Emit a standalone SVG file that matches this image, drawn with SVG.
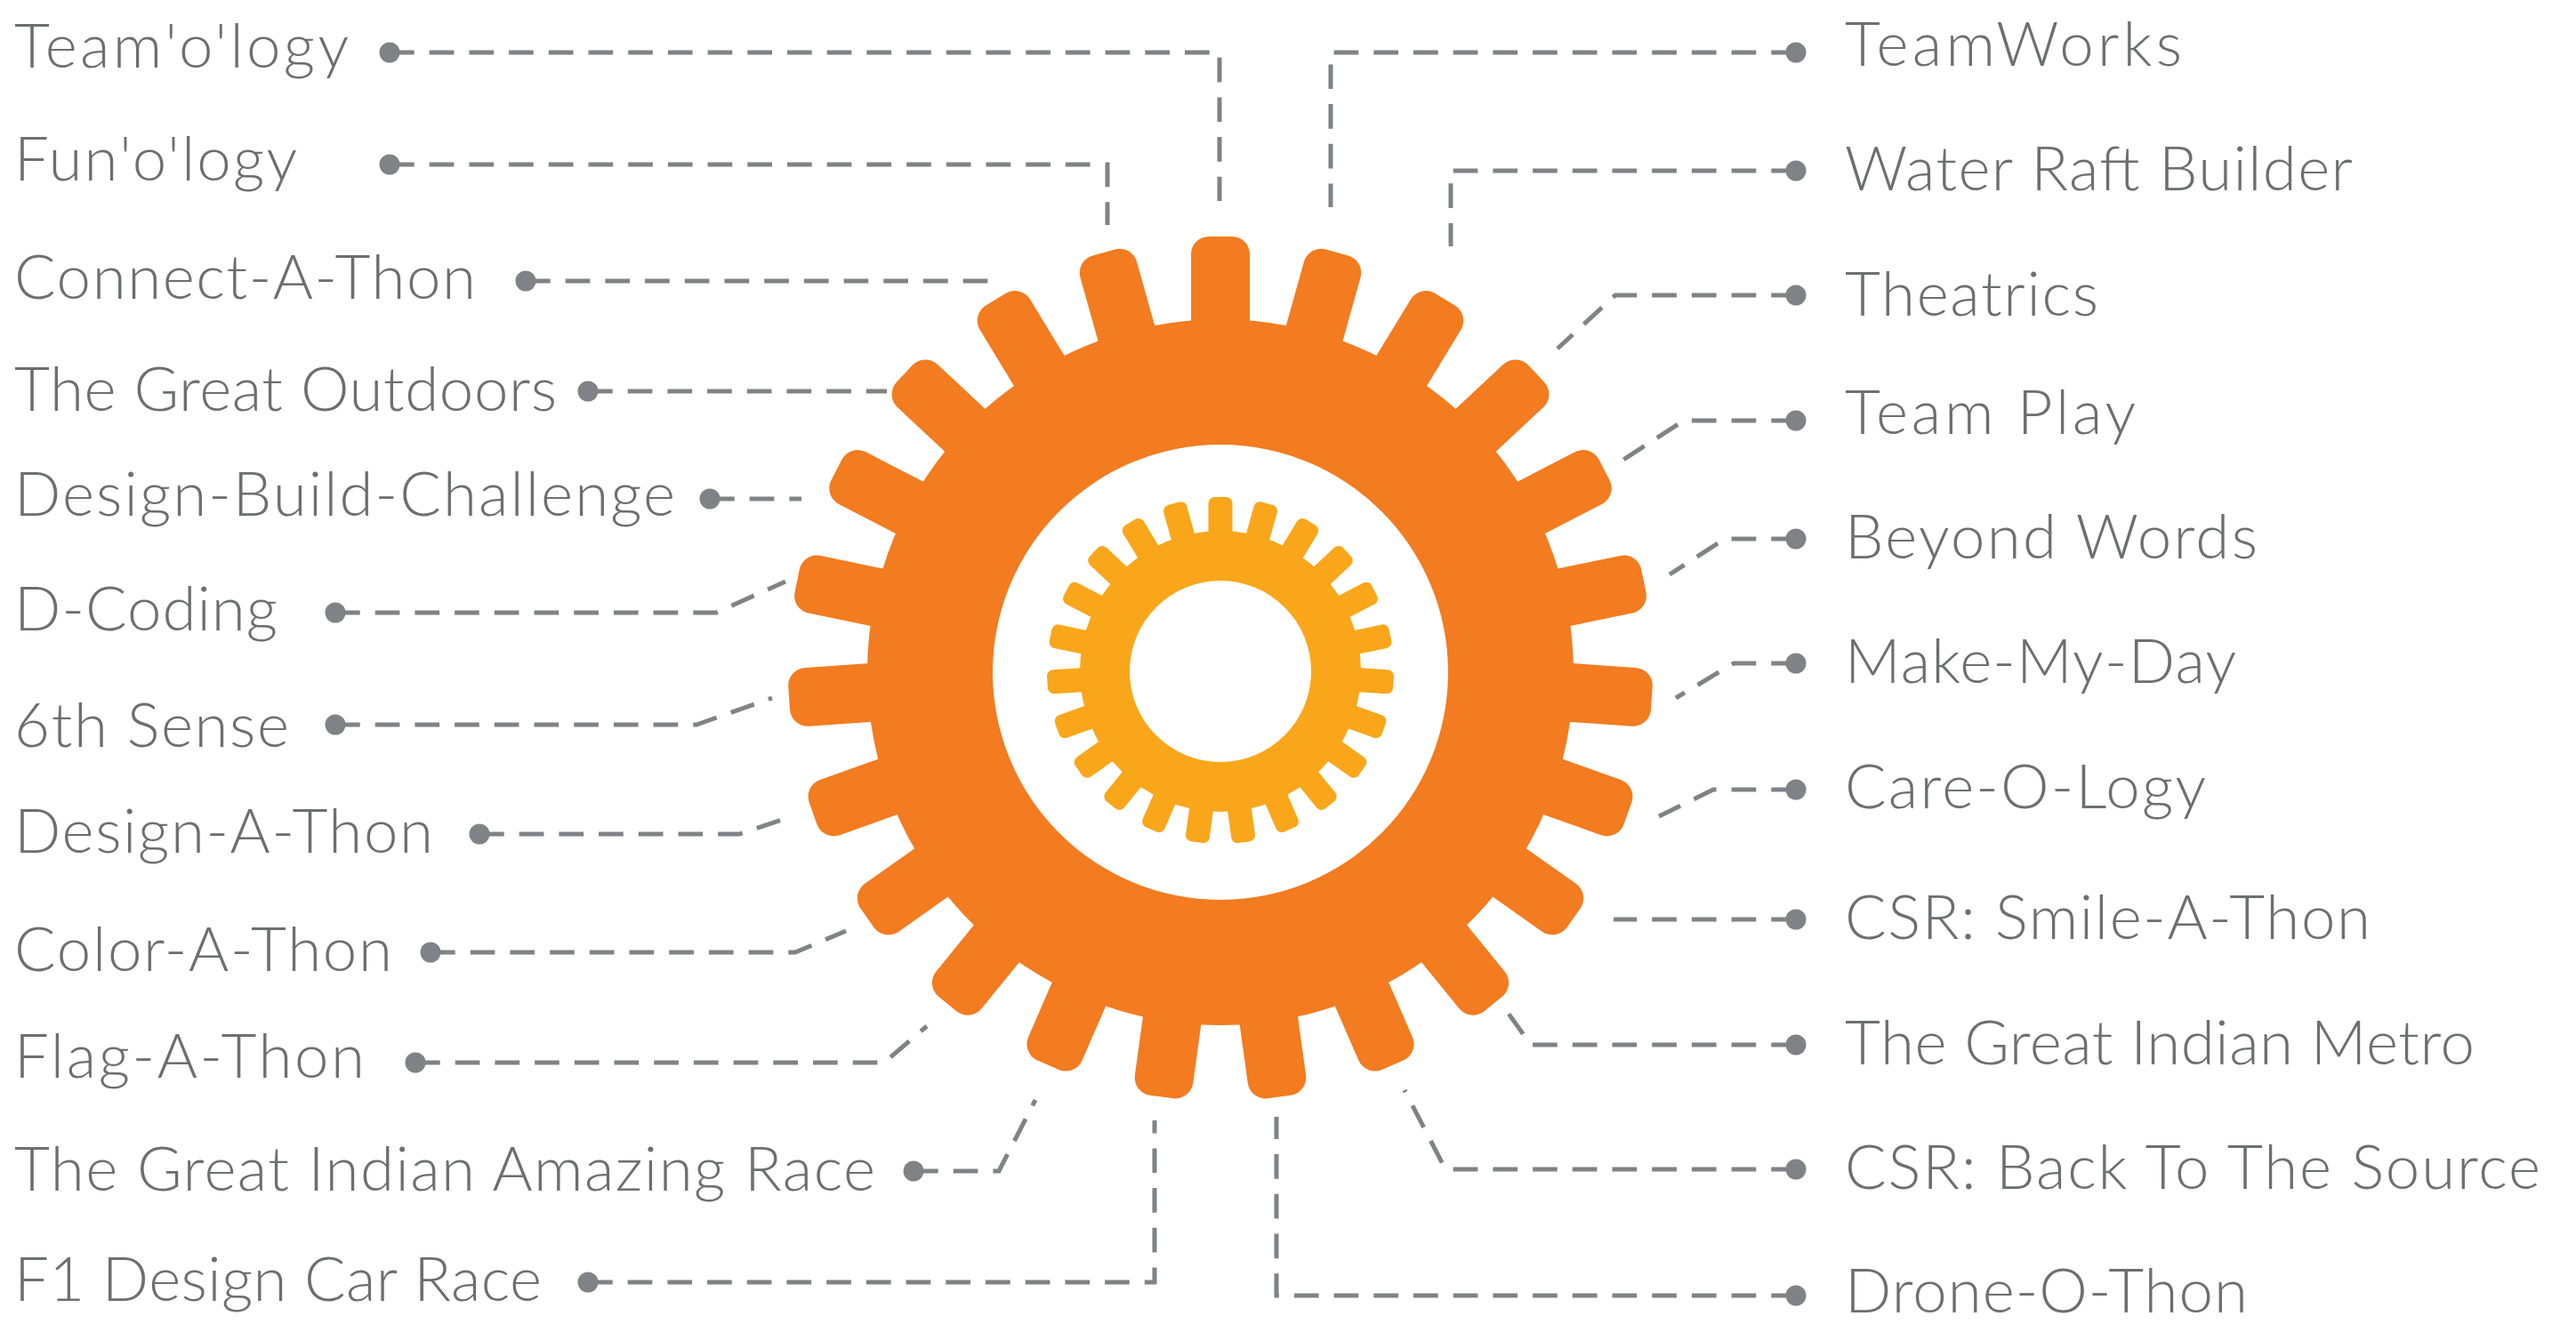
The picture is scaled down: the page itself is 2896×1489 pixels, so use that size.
<svg xmlns="http://www.w3.org/2000/svg" width="2896" height="1489" viewBox="0 0 2896 1489">
<style>
text{font-family:"Lato","Open Sans","Liberation Sans",sans-serif;font-weight:300;font-size:69px;fill:#6d6e71}
.c{fill:none;stroke:#808285;stroke-width:5;stroke-dasharray:27.7 17;marker-start:url(#dot)}
.o{fill:#f37b20}.y{fill:#faa61a}.w{fill:#fff}
</style>
<defs>
<marker id="dot" markerUnits="userSpaceOnUse" markerWidth="26" markerHeight="26" refX="13" refY="13"><circle cx="13" cy="13" r="11.5" fill="#808285"/></marker>
<rect id="tb" class="o" x="-33" y="-486" width="66" height="130" rx="20"/>
<rect id="ts" class="y" x="-13.5" y="-195" width="27" height="60" rx="7"/>
</defs>
<rect width="2896" height="1489" fill="#fff"/>
<g id="connectors">
<path class="c" d="M438 59H1371V226"/>
<path class="c" d="M438 185H1245V253"/>
<path class="c" d="M591 316H1112"/>
<path class="c" d="M661 440H997"/>
<path class="c" d="M798 561H901"/>
<path class="c" d="M377 689H805L883 654"/>
<path class="c" d="M377 815H783L868 785"/>
<path class="c" d="M539 938H831L879 922"/>
<path class="c" d="M484 1071H894L951 1047"/>
<path class="c" d="M467 1195H994L1042 1154"/>
<path class="c" d="M1027 1317H1123L1164 1237"/>
<path class="c" d="M661 1442H1298V1260"/>
<path class="c" d="M2019 59H1496V233"/>
<path class="c" d="M2019 192H1631V277"/>
<path class="c" d="M2019 332H1816L1751 392"/>
<path class="c" d="M2019 473H1893L1825 517"/>
<path class="c" d="M2019 606H1939L1877 646"/>
<path class="c" d="M2019 746H1949L1884 785"/>
<path class="c" d="M2019 888H1926L1865 918"/>
<path class="c" d="M2019 1034H1814"/>
<path class="c" d="M2019 1175H1721L1696 1140"/>
<path class="c" d="M2019 1315H1625L1579 1226"/>
<path class="c" d="M2019 1457H1435V1256"/>
</g>
<g id="outer-gear">
<g transform="translate(1372 752)">
<use href="#tb"/><use href="#tb" transform="rotate(15.652)"/><use href="#tb" transform="rotate(31.304)"/><use href="#tb" transform="rotate(46.957)"/><use href="#tb" transform="rotate(62.609)"/><use href="#tb" transform="rotate(78.261)"/><use href="#tb" transform="rotate(93.913)"/><use href="#tb" transform="rotate(109.565)"/><use href="#tb" transform="rotate(125.217)"/><use href="#tb" transform="rotate(140.87)"/><use href="#tb" transform="rotate(156.522)"/><use href="#tb" transform="rotate(172.174)"/><use href="#tb" transform="rotate(187.826)"/><use href="#tb" transform="rotate(203.478)"/><use href="#tb" transform="rotate(219.13)"/><use href="#tb" transform="rotate(234.783)"/><use href="#tb" transform="rotate(250.435)"/><use href="#tb" transform="rotate(266.087)"/><use href="#tb" transform="rotate(281.739)"/><use href="#tb" transform="rotate(297.391)"/><use href="#tb" transform="rotate(313.043)"/><use href="#tb" transform="rotate(328.696)"/><use href="#tb" transform="rotate(344.348)"/>
</g>
<circle class="o" cx="1372" cy="756" r="397"/>
<circle class="w" cx="1372" cy="756" r="256"/>
</g>
<g id="inner-gear">
<g transform="translate(1372 754)">
<use href="#ts"/><use href="#ts" transform="rotate(15.652)"/><use href="#ts" transform="rotate(31.304)"/><use href="#ts" transform="rotate(46.957)"/><use href="#ts" transform="rotate(62.609)"/><use href="#ts" transform="rotate(78.261)"/><use href="#ts" transform="rotate(93.913)"/><use href="#ts" transform="rotate(109.565)"/><use href="#ts" transform="rotate(125.217)"/><use href="#ts" transform="rotate(140.87)"/><use href="#ts" transform="rotate(156.522)"/><use href="#ts" transform="rotate(172.174)"/><use href="#ts" transform="rotate(187.826)"/><use href="#ts" transform="rotate(203.478)"/><use href="#ts" transform="rotate(219.13)"/><use href="#ts" transform="rotate(234.783)"/><use href="#ts" transform="rotate(250.435)"/><use href="#ts" transform="rotate(266.087)"/><use href="#ts" transform="rotate(281.739)"/><use href="#ts" transform="rotate(297.391)"/><use href="#ts" transform="rotate(313.043)"/><use href="#ts" transform="rotate(328.696)"/><use href="#ts" transform="rotate(344.348)"/>
</g>
<circle class="y" cx="1372" cy="755" r="158"/>
<circle class="w" cx="1372" cy="755" r="102"/>
</g>
<g id="n1"><text x="16" y="76" textLength="376">Team'o'logy</text></g>
<g id="n2"><text x="16" y="203" textLength="318">Fun'o'logy</text></g>
<g id="n3"><text x="16" y="336" textLength="519">Connect-A-Thon</text></g>
<g id="n4"><text x="16" y="462" textLength="610">The Great Outdoors</text></g>
<g id="n5"><text x="16" y="580" textLength="743">Design-Build-Challenge</text></g>
<g id="n6"><text x="16" y="709" textLength="296">D-Coding</text></g>
<g id="n7"><text x="16" y="840" textLength="309">6th Sense</text></g>
<g id="n8"><text x="16" y="959" textLength="471">Design-A-Thon</text></g>
<g id="n9"><text x="16" y="1092" textLength="425">Color-A-Thon</text></g>
<g id="n10"><text x="16" y="1212" textLength="394">Flag-A-Thon</text></g>
<g id="n11"><text x="16" y="1339" textLength="968">The Great Indian Amazing Race</text></g>
<g id="n12"><text x="16" y="1463" textLength="593">F1 Design Car Race</text></g>
<g id="n13"><text x="2074" y="74" textLength="379">TeamWorks</text></g>
<g id="n14"><text x="2074" y="214" textLength="571">Water Raft Builder</text></g>
<g id="n15"><text x="2074" y="355" textLength="285">Theatrics</text></g>
<g id="n16"><text x="2074" y="488" textLength="327">Team Play</text></g>
<g id="n17"><text x="2074" y="628" textLength="464">Beyond Words</text></g>
<g id="n18"><text x="2074" y="768" textLength="440">Make-My-Day</text></g>
<g id="n19"><text x="2074" y="909" textLength="406">Care-O-Logy</text></g>
<g id="n20"><text x="2074" y="1056" textLength="591">CSR: Smile-A-Thon</text></g>
<g id="n21"><text x="2074" y="1197" textLength="708">The Great Indian Metro</text></g>
<g id="n22"><text x="2074" y="1337" textLength="782">CSR: Back To The Source</text></g>
<g id="n23"><text x="2074" y="1476" textLength="453">Drone-O-Thon</text></g>
</svg>
